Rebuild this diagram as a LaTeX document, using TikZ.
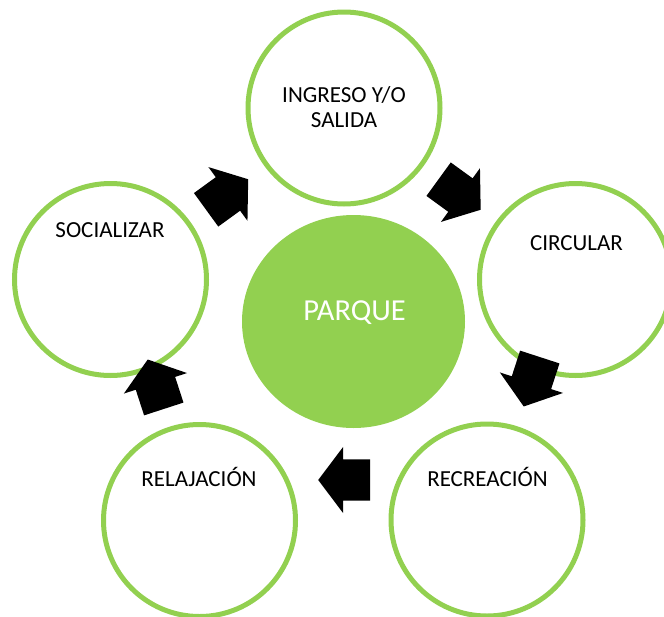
\documentclass[tikz,border=0pt]{standalone}
\usepackage{fontspec}
\setmainfont{Carlito}
\usetikzlibrary{shapes.arrows,shapes.geometric}
\definecolor{leaf}{HTML}{92D050}
\begin{document}
\begin{tikzpicture}[x=1pt,y=-1pt,
            ring/.style={draw=leaf,line width=5pt,circle,minimum size=192pt,inner sep=0pt},
            hub/.style={fill=leaf,ellipse,minimum width=223pt,minimum height=213pt,inner sep=0pt},
            lbl/.style={font=\fontsize{23}{25}\selectfont,align=center,inner sep=0pt},
            blk/.style={single arrow,fill=black,inner sep=0pt,inner ysep=20.5pt,minimum height=52pt,
                single arrow head extend=12.5pt,single arrow tip angle=106},
        ]

        \useasboundingbox (0,0) rectangle (664,616);
        \clip (0,0) rectangle (664,616);

        \node[hub] (parque) at (353.5,321.5) {};
        \node[lbl,text=white,font=\fontsize{30.5}{32}\selectfont] (tparque) at (354.5,313) {PARQUE};

        \node[ring] (ingreso) at (344,108) {};
        \node[ring] (circular) at (575.5,279.5) {};
        \node[ring] (recreacion) at (487,520) {};
        \node[ring] (relajacion) at (199.5,520.5) {};
        \node[ring] (socializar) at (110.5,279.5) {};

        \node[lbl] (tingreso) at (344,107.5) {INGRESO Y/O\\SALIDA};
        \node[lbl,anchor=base] (tcircular) at (576.5,250.4) {CIRCULAR};
        \node[lbl,anchor=base] (trecreacion) at (487.5,486) {RECREACIÓN};
        \node[lbl,anchor=base] (trelajacion) at (199,486.4) {RELAJACIÓN};
        \node[lbl,anchor=base] (tsocializar) at (110,237.4) {SOCIALIZAR};

        % flechas del ciclo
        \node[blk,rotate=36,xshift=-7pt] (a1) at (226.5,195) {};
        \node[blk,rotate=-36,xshift=-7pt] (a2) at (459,194) {};
        \node[blk,rotate=-108,xshift=-7pt] (a3) at (532,381) {};
        \node[blk,rotate=180,xshift=-7pt] (a4) at (345,480) {};
        \node[blk,rotate=108,xshift=-7pt] (a5) at (156,385) {};

\end{tikzpicture}
\end{document}
